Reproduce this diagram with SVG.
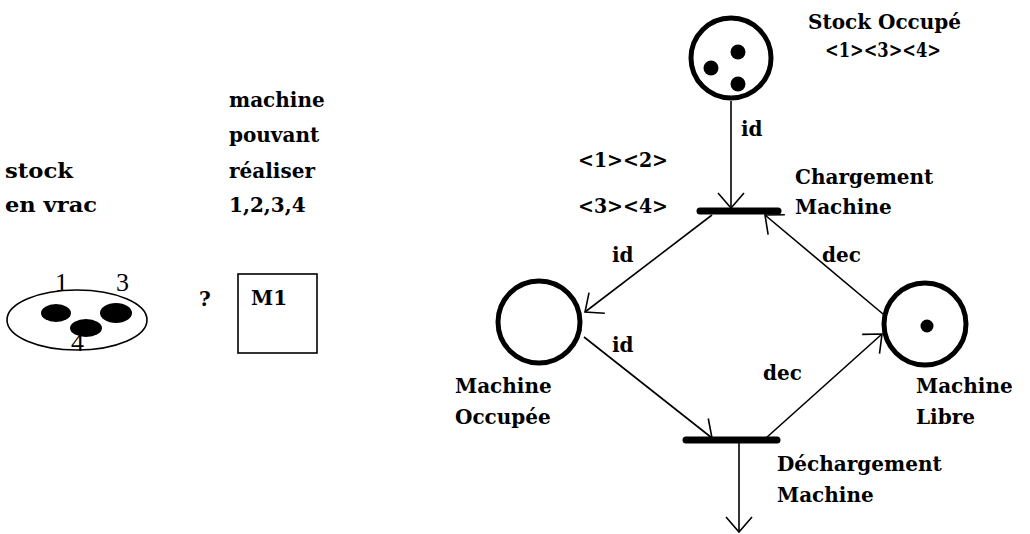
<svg xmlns="http://www.w3.org/2000/svg" width="1030" height="534" viewBox="0 0 1030 534">
<defs>
<style>
.t{font-family:"DejaVu Serif","Liberation Serif",serif;font-weight:bold;font-size:20px;fill:#000}
.n{font-family:"Liberation Serif",serif;font-size:26px;fill:#000}
.place{fill:#fff;stroke:#000;stroke-width:5}
.tok{fill:#000}
.bar{stroke:#000;stroke-width:7;stroke-linecap:round}
.arc{fill:none;stroke:#000;stroke-width:1.6}
</style>
<marker id="ah" viewBox="-17 -15 19 30" markerWidth="19" markerHeight="30" refX="0" refY="0" orient="auto" markerUnits="userSpaceOnUse">
<path d="M-15,-13 L0,0 L-15,13" fill="none" stroke="#000" stroke-width="1.6"/>
</marker>
</defs>
<rect width="1030" height="534" fill="#fff"/>

<g id="left-stock">
<text class="t" x="5" y="178" textLength="68" lengthAdjust="spacingAndGlyphs">stock</text>
<text class="t" x="5" y="212" textLength="92" lengthAdjust="spacingAndGlyphs">en vrac</text>
<ellipse cx="77" cy="320" rx="70" ry="30" fill="none" stroke="#000" stroke-width="1.6"/>
<ellipse class="tok" cx="56" cy="313" rx="15" ry="9"/>
<ellipse class="tok" cx="116" cy="313" rx="16" ry="10"/>
<ellipse class="tok" cx="86" cy="328" rx="16" ry="9"/>
<text class="n" x="55" y="291">1</text>
<text class="n" x="116" y="291">3</text>
<text class="n" x="71" y="351">4</text>
</g>
<g id="question"><text class="t" x="199" y="306">?</text></g>
<g id="left-machine">
<text class="t" x="229" y="107">machine</text>
<text class="t" x="229" y="142">pouvant</text>
<text class="t" x="229" y="178">réaliser</text>
<text class="t" x="229" y="212">1,2,3,4</text>
<rect x="238" y="274" width="79" height="79" fill="none" stroke="#000" stroke-width="1.6"/>
<text class="t" x="251" y="305">M1</text>
</g>

<g id="connectors">
<line class="arc" x1="731" y1="101" x2="731" y2="208" marker-end="url(#ah)"/>
<line class="arc" x1="712" y1="215" x2="585" y2="312" marker-end="url(#ah)"/>
<line class="arc" x1="584" y1="337" x2="712" y2="438" marker-end="url(#ah)"/>
<line class="arc" x1="766" y1="438" x2="882" y2="334" marker-end="url(#ah)"/>
<line class="arc" x1="883" y1="314" x2="765" y2="215" marker-end="url(#ah)"/>
<line class="arc" x1="739" y1="442" x2="739" y2="532" marker-end="url(#ah)"/>
<text class="t" x="741" y="136">id</text>
<text class="t" x="612" y="262">id</text>
<text class="t" x="822" y="262">dec</text>
<text class="t" x="612" y="352">id</text>
<text class="t" x="763" y="380">dec</text>
</g>

<g id="stock-occupe">
<circle class="place" cx="731" cy="58" r="40"/>
<circle class="tok" cx="738" cy="52" r="7.5"/>
<circle class="tok" cx="711" cy="68" r="7.5"/>
<circle class="tok" cx="738" cy="84" r="7.5"/>
<text class="t" x="808" y="29">Stock Occupé</text>
<text class="t" x="825" y="57" textLength="116" lengthAdjust="spacingAndGlyphs">&lt;1&gt;&lt;3&gt;&lt;4&gt;</text>
</g>

<g id="chargement">
<line class="bar" x1="700" y1="211" x2="778" y2="211"/>
<text class="t" x="578" y="167" textLength="90" lengthAdjust="spacingAndGlyphs">&lt;1&gt;&lt;2&gt;</text>
<text class="t" x="578" y="213" textLength="90" lengthAdjust="spacingAndGlyphs">&lt;3&gt;&lt;4&gt;</text>
<text class="t" x="795" y="184">Chargement</text>
<text class="t" x="795" y="214">Machine</text>
</g>

<g id="machine-occupee">
<circle class="place" cx="539" cy="322" r="41"/>
<text class="t" x="455" y="393">Machine</text>
<text class="t" x="455" y="424">Occupée</text>
</g>

<g id="machine-libre">
<circle class="place" cx="925" cy="324" r="41"/>
<circle class="tok" cx="927" cy="326" r="6.5"/>
<text class="t" x="916" y="393">Machine</text>
<text class="t" x="916" y="424">Libre</text>
</g>

<g id="dechargement">
<line class="bar" x1="686" y1="440" x2="777" y2="440"/>
<text class="t" x="777" y="471">Déchargement</text>
<text class="t" x="777" y="502">Machine</text>
</g>
</svg>
